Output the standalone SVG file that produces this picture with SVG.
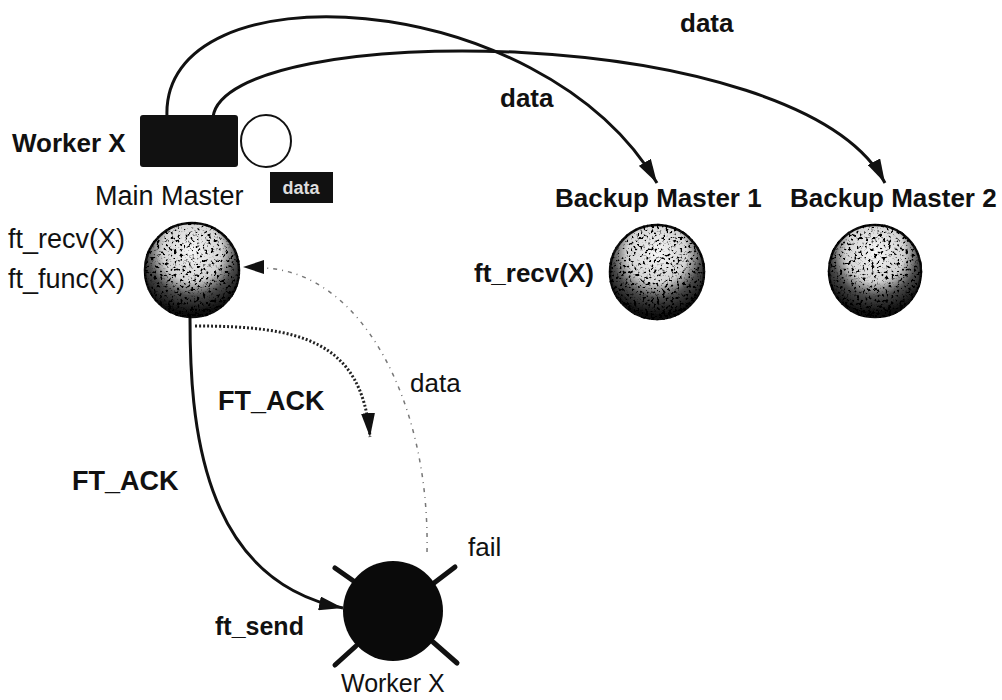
<svg xmlns="http://www.w3.org/2000/svg" width="1002" height="700" viewBox="0 0 1002 700">
<style>
text{font-family:"Liberation Sans",Arial,sans-serif;fill:#111;font-size:26px}
.b{font-weight:bold}
.sph{fill:url(#g);stroke:#111;stroke-width:2.5;filter:url(#speck)}
.ln{fill:none;stroke:#111;stroke-width:3}
.dot{fill:none;stroke:#222;stroke-width:3;stroke-dasharray:2 2}
.thin{fill:none;stroke:#777;stroke-width:1.5;stroke-dasharray:4 5 1 5}
.sp{stroke:#111;stroke-width:5;stroke-linecap:round}
</style>
<defs>
<radialGradient id="g" cx="50%" cy="30%" r="70%">
<stop offset="0" stop-color="#f6f6f6"/>
<stop offset="0.45" stop-color="#d4d4d4"/>
<stop offset="0.68" stop-color="#4a4a4a"/>
<stop offset="0.92" stop-color="#111"/>
</radialGradient>
<filter id="speck" x="-10%" y="-10%" width="120%" height="120%">
<feTurbulence type="fractalNoise" baseFrequency="0.35" numOctaves="2" seed="4" result="n"/>
<feColorMatrix in="n" type="matrix" values="0 0 0 0 0  0 0 0 0 0  0 0 0 0 0  0 0 0 -7 3.3" result="dots"/>
<feComposite in="dots" in2="SourceAlpha" operator="in" result="d2"/>
<feMerge><feMergeNode in="SourceGraphic"/><feMergeNode in="d2"/></feMerge>
</filter>
<marker id="ah" viewBox="0 0 24 14" refX="24" refY="7" markerWidth="24" markerHeight="14" markerUnits="userSpaceOnUse" orient="auto">
<path d="M0,0 L24,7 L0,14 z" fill="#111"/>
</marker>
</defs>
<g id="connectors">
<path class="ln" d="M167,117 C160,-35 540,-15 657,183" marker-end="url(#ah)"/>
<path class="ln" d="M213,117 C225,20 800,20 885,183" marker-end="url(#ah)"/>
<path class="ln" d="M190,318 C190,420 200,580 343,608" marker-end="url(#ah)"/>
<path class="dot" d="M195,326 C300,326 362,340 370,437" marker-end="url(#ah)"/>
<path class="thin" d="M427,552 C430,400 360,270 262,268"/>
<path d="M243,267 L264,260 L264,274 z" fill="#111"/>
</g>
<g id="worker-x-top">
<text class="b" x="12" y="152">Worker X</text>
<rect x="140" y="115" width="98" height="52" rx="3" fill="#111"/>
<ellipse cx="266" cy="141" rx="25" ry="26" fill="#fff" stroke="#111" stroke-width="2"/>
</g>
<g id="data-box">
<rect x="270" y="172" width="63" height="31" fill="#111"/>
<text x="301" y="194" text-anchor="middle" style="fill:#ddd;font-size:18px" class="b">data</text>
</g>
<g id="main-master">
<text x="95" y="205" style="font-size:27px">Main Master</text>
<text x="8" y="248" style="font-size:27px">ft_recv(X)</text>
<text x="8" y="288" style="font-size:27px">ft_func(X)</text>
<circle class="sph" cx="192" cy="270" r="47"/>
</g>
<g id="backup-master-1">
<text class="b" x="555" y="207">Backup Master 1</text>
<text class="b" x="474" y="282">ft_recv(X)</text>
<circle class="sph" cx="657" cy="272" r="47"/>
</g>
<g id="backup-master-2">
<text class="b" x="790" y="207">Backup Master 2</text>
<circle class="sph" cx="875" cy="271" r="46"/>
</g>
<g id="worker-x-bottom">
<line class="sp" x1="335" y1="568" x2="355" y2="582"/>
<line class="sp" x1="455" y1="567" x2="434" y2="583"/>
<line class="sp" x1="335" y1="665" x2="356" y2="646"/>
<line class="sp" x1="457" y1="663" x2="433" y2="642"/>
<circle cx="393" cy="611" r="50" fill="#0a0a0a"/>
<text x="341" y="692" style="font-size:25px">Worker X</text>
<text x="468" y="556">fail</text>
</g>
<g id="labels">
<text class="b" x="680" y="32">data</text>
<text class="b" x="500" y="107">data</text>
<text x="410" y="392">data</text>
<text class="b" x="218" y="410" style="font-size:27px">FT_ACK</text>
<text class="b" x="72" y="490" style="font-size:27px">FT_ACK</text>
<text class="b" x="215" y="635" style="font-size:25px">ft_send</text>
</g>
</svg>
